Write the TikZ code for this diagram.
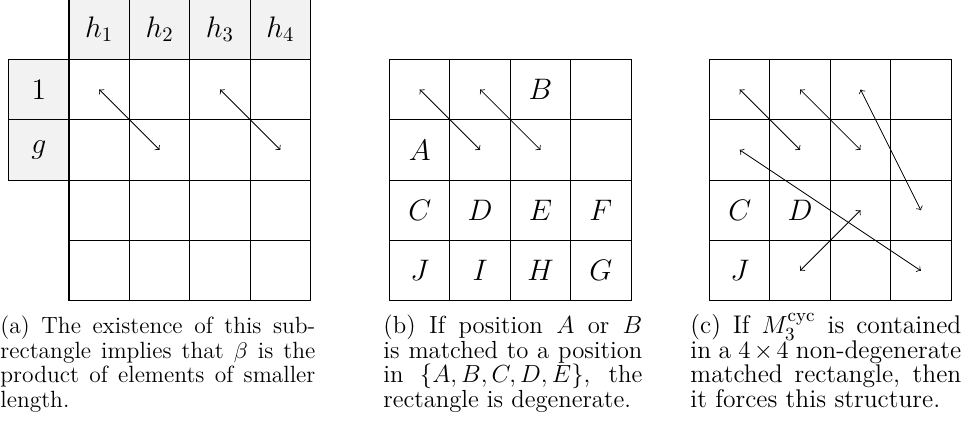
\documentclass[tikz,border=0pt]{standalone}
\usetikzlibrary{arrows}
\definecolor{hdr}{HTML}{F2F2F2}
\tikzset{
  cell/.style={draw=black, line width=0.5pt, minimum width=29.32pt, minimum height=29.32pt, inner sep=0pt, outer sep=0pt},
  lbl/.style={inner sep=0pt, font=\Large},
  arr/.style={<->, line width=0.4pt},
  capt/.style={anchor=north west, inner sep=0pt, align=justify}
}
\begin{document}
\begin{tikzpicture}[x=0.4854pt, y=-0.4854pt]
\useasboundingbox (0,0) rectangle (966,432);
% (a) header cells
\node[cell, fill=hdr, font=\Large] (h1) at ({69+0.5*60.4},{59.3-0.5*60.4}) {$h_1$};
\node[cell, fill=hdr, font=\Large] (h2) at ({69+1.5*60.4},{59.3-0.5*60.4}) {$h_2$};
\node[cell, fill=hdr, font=\Large] (h3) at ({69+2.5*60.4},{59.3-0.5*60.4}) {$h_3$};
\node[cell, fill=hdr, font=\Large] (h4) at ({69+3.5*60.4},{59.3-0.5*60.4}) {$h_4$};
\node[cell, fill=hdr, font=\Large] (r1) at ({69-0.5*60.4},{59.3+0.5*60.4}) {$1$};
\node[cell, fill=hdr, font=\Large] (rg) at ({69-0.5*60.4},{59.3+1.5*60.4}) {$g$};
% grids
\foreach \g/\x in {a/69, b/389.5, c/709.5} {
  \foreach \i in {1,...,4} {
    \foreach \j in {1,...,4} {
      \node[cell] (\g-\i-\j) at ({\x+(\i-0.5)*60.4},{59.3+(\j-0.5)*60.4}) {};
    }
  }
}
% (b) labels
\node[lbl] (bB) at (b-3-1.center) {$B$};
\node[lbl] (bA) at (b-1-2.center) {$A$};
\node[lbl] (bC) at (b-1-3.center) {$C$};
\node[lbl] (bD) at (b-2-3.center) {$D$};
\node[lbl] (bE) at (b-3-3.center) {$E$};
\node[lbl] (bF) at (b-4-3.center) {$F$};
\node[lbl] (bJ) at (b-1-4.center) {$J$};
\node[lbl] (bI) at (b-2-4.center) {$I$};
\node[lbl] (bH) at (b-3-4.center) {$H$};
\node[lbl] (bG) at (b-4-4.center) {$G$};
% (c) labels
\node[lbl] (cC) at (c-1-3.center) {$C$};
\node[lbl] (cD) at (c-2-3.center) {$D$};
\node[lbl] (cJ) at (c-1-4.center) {$J$};
% arrows
\draw[arr] (a-1-1.center) -- (a-2-2.center);
\draw[arr] (a-3-1.center) -- (a-4-2.center);
\draw[arr] (b-1-1.center) -- (b-2-2.center);
\draw[arr] (b-2-1.center) -- (b-3-2.center);
\draw[arr] (c-1-1.center) -- (c-2-2.center);
\draw[arr] (c-2-1.center) -- (c-3-2.center);
\draw[arr] (c-3-1.center) -- (c-4-3.center);
\draw[arr] (c-1-2.center) -- (c-4-4.center);
\draw[arr] (c-2-4.center) -- (c-3-3.center);
% captions
\node[capt, text width=152.9pt, font=\fontsize{11.4}{12}\selectfont] (capa) at (0,312.4) {\rule{0pt}{10pt}(a) The existence of this sub-\linebreak rectangle implies that $\beta$ is the\linebreak product of elements of smaller\linebreak length.};
\node[capt, text width=125.7pt, font=\fontsize{12}{12}\selectfont] (capb) at (383,312.4) {\rule{0pt}{10pt}(b) If position $A$ or $B$\linebreak is matched to a position\linebreak in $\{A,B,C,D,E\}$, the\linebreak rectangle is degenerate.};
\node[capt, text width=131.5pt, font=\fontsize{12.4}{12}\selectfont] (capc) at (690,312.4) {\rule{0pt}{10pt}(c) If $M_3^{\mathrm{cyc}}$ is contained\linebreak in a $4\times4$ non-degenerate\linebreak matched rectangle, then\linebreak it forces this structure.};
\end{tikzpicture}
\end{document}
